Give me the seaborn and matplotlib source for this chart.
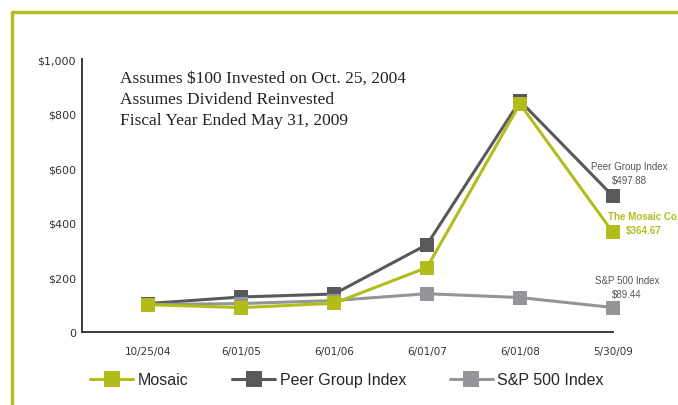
import matplotlib
matplotlib.use("Agg")
import matplotlib.pyplot as plt
from matplotlib.lines import Line2D
import seaborn as sns
import pandas as pd

# data
dates = ["10/25/04", "6/01/05", "6/01/06", "6/01/07", "6/01/08", "5/30/09"]
mosaic = [100, 89, 105, 236, 836, 364.67]
peer = [104, 128, 139, 320, 847, 497.88]
sp500 = [100, 104, 115, 140, 126, 89.44]

green = "#b2bd1c"
dark = "#58595b"
grey = "#939598"
axis_col = "#3a3a3a"

sns.set_style("white")
plt.rcParams['font.family'] = ['DejaVu Sans']
label_font = "Liberation Sans"

fig = plt.figure(figsize=(6.78, 4.06), dpi=100)
ax = fig.add_axes([0.121, 0.180, 0.783, 0.672])

x = list(range(len(dates)))
# draw order: peer, s&p, mosaic on top
for vals, col in [(peer, dark), (sp500, grey), (mosaic, green)]:
    df = pd.DataFrame({"x": x, "y": vals})
    sns.lineplot(data=df, x="x", y="y", ax=ax, color=col, linewidth=2.2,
                 marker="s", markersize=10.5, markeredgewidth=0)
for ln in ax.lines:
    ln.set_clip_on(False)

ax.set_xlim(-0.71, 5)
ax.set_ylim(0, 1000)
ax.set_xticks(x)
ax.set_xticklabels(dates, fontsize=7.5, color="#333333")
ax.set_yticks([0, 200, 400, 600, 800, 1000])
ax.set_yticklabels(["0", "$200", "$400", "$600", "$800", "$1,000"], fontsize=8, color="#333333")
ax.set_xlabel("")
ax.set_ylabel("")
ax.tick_params(axis="both", direction="in", length=5.5, width=1.3, color=axis_col, pad=4.5)
ax.tick_params(axis="x", pad=10)
for s in ["top", "right"]:
    ax.spines[s].set_visible(False)
for s in ["left", "bottom"]:
    ax.spines[s].set_color(axis_col)
    ax.spines[s].set_linewidth(1.4)

# notes
ax.text(0.072, 0.96, "Assumes $100 Invested on Oct. 25, 2004\nAssumes Dividend Reinvested\nFiscal Year Ended May 31, 2009",
        transform=ax.transAxes, fontsize=12.5, family="Liberation Serif", color="#222222",
        va="top", ha="left", linespacing=1.42)

# end labels
ax.annotate("Peer Group Index\n$497.88", (5, peer[-1]), xytext=(12, 16.5), textcoords="offset points",
            fontsize=7, family=label_font, color="#555555", ha="center", va="center", linespacing=1.5)
ax.annotate("The Mosaic Co.\n$364.67", (5, mosaic[-1]), xytext=(22, 6.8), textcoords="offset points",
            fontsize=7, family=label_font, color=green, fontweight="bold", ha="center", va="center", linespacing=1.5)
ax.annotate("S&P 500 Index\n$89.44", (5, sp500[-1]), xytext=(10, 14.5), textcoords="offset points",
            fontsize=7, family=label_font, color="#555555", ha="center", va="center", linespacing=1.5)

# legend
handles = [Line2D([], [], color=c, linewidth=2.2, marker="s", markersize=11, markeredgewidth=0)
           for c in (green, dark, grey)]
fig.legend(handles, ["Mosaic", "Peer Group Index", "S&P 500 Index"], loc="center",
           bbox_to_anchor=(0.512, 0.062), ncol=3, frameon=False,
           prop={"family": label_font, "size": 11.5},
           handlelength=2.7, columnspacing=2.7, handletextpad=0.3)

# green frame
fig.add_artist(Line2D([0.018, 1.0], [0.968, 0.968], color=green, linewidth=2.5, transform=fig.transFigure))
fig.add_artist(Line2D([0.018, 0.018], [0.0, 0.968], color=green, linewidth=2.5, transform=fig.transFigure))

fig.savefig("out.png", dpi=100)
